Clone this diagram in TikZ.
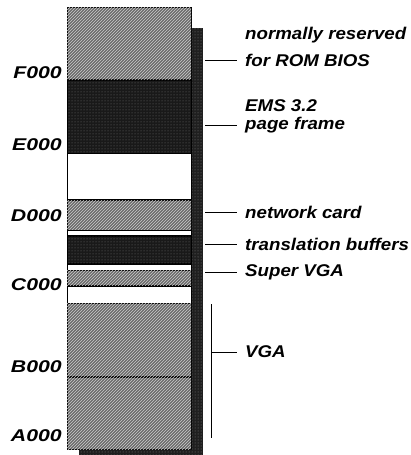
\documentclass[tikz,border=0pt]{standalone}
\usepackage{fontspec}
\setmainfont{Liberation Sans}
\newfontfamily\lblfont[FakeStretch=1.1]{Liberation Sans}
\newfontfamily\hexfont[FakeStretch=1.25]{Liberation Sans}
\usetikzlibrary{patterns, positioning}

\begin{document}
\begin{tikzpicture}[
    x=1pt, y=-1pt,
    seg/.style={rectangle, draw=black, line width=0.6pt, inner sep=0pt,
                minimum width=124pt, anchor=north},
    hatch/.style={seg, fill=black!58,
                  postaction={pattern=north east lines, pattern color=white!80!black}},
    dark/.style={seg, fill=black!90,
                 postaction={pattern=dots, pattern color=black!55}},
    empty/.style={seg, fill=white},
    shade/.style={rectangle, inner sep=0pt, anchor=north west, fill=black!88,
                  postaction={pattern=dots, pattern color=black!50}},
    hex/.style={anchor=east, inner sep=0pt,
                font=\hexfont\bfseries\itshape\fontsize{17}{18}\selectfont},
    lbl/.style={anchor=west, inner sep=0pt,
                font=\lblfont\bfseries\itshape\fontsize{17}{18}\selectfont},
    lead/.style={line width=0.8pt},
]
\useasboundingbox (0,0) rectangle (410,455);

% Shadow behind the column
\node[shade, minimum width=124pt, minimum height=427pt] (shadow) at (79,28) {};

% Memory column, top to bottom
\node[hatch, minimum height=72pt] (rom)   at (129,7) {};
\node[dark,  minimum height=73pt, below=0pt of rom]   (ems)   {};
\node[empty, minimum height=46pt, below=0pt of ems]   (freea) {};
\node[hatch, minimum height=30pt, below=0pt of freea] (net)   {};
\node[empty, minimum height=5pt,  below=0pt of net]   (freeb) {};
\node[dark,  minimum height=27pt, below=0pt of freeb] (xlat)  {};
\node[empty, minimum height=6pt,  below=0pt of xlat]  (freec) {};
\node[hatch, minimum height=15pt, below=0pt of freec] (svga)  {};
\node[empty, minimum height=17pt, below=0pt of svga]  (freed) {};
\node[hatch, minimum height=73pt, below=0pt of freed] (vgahi) {};
\node[hatch, minimum height=72pt, below=0pt of vgahi] (vgalo) {};

% Segment addresses
\node[hex] (f000) at (62,73)  {F000};
\node[hex] (e000) at (62,145) {E000};
\node[hex] (d000) at (62,216) {D000};
\node[hex] (c000) at (62,285) {C000};
\node[hex] (b000) at (62,367) {B000};
\node[hex] (a000) at (62,436) {A000};

% Labels
\node[lbl] (romtop) at (245,35)  {normally reserved};
\node[lbl] (rombot) at (245,60)  {for ROM BIOS};
\node[lbl] (emstop) at (245,106) {EMS 3.2};
\node[lbl] (emsbot) at (245,125) {page frame};
\node[lbl] (netlbl) at (245,212) {network card};
\node[lbl] (xlatlbl) at (245,244) {translation buffers};
\node[lbl] (svgalbl) at (245,272) {Super VGA};
\node[lbl] (vgalbl) at (245,352) {VGA};

% Leader lines
\draw[lead] ([xshift=2pt]shadow.east |- rombot.west)  -- ([xshift=-8pt]rombot.west);
\draw[lead] ([xshift=2pt]shadow.east |- emsbot.west)  -- ([xshift=-8pt]emsbot.west);
\draw[lead] ([xshift=2pt]shadow.east |- netlbl.west)  -- ([xshift=-8pt]netlbl.west);
\draw[lead] ([xshift=2pt]shadow.east |- xlatlbl.west) -- ([xshift=-8pt]xlatlbl.west);
\draw[lead] ([xshift=2pt]shadow.east |- svgalbl.west) -- ([xshift=-8pt]svgalbl.west);

% VGA bracket
\coordinate (vgatop) at (211,304);
\coordinate (vgabot) at (211,438);
\draw[lead] (vgatop) -- (vgabot);
\draw[lead] (vgatop |- vgalbl.west) -- ([xshift=-8pt]vgalbl.west);

\end{tikzpicture}
\end{document}
